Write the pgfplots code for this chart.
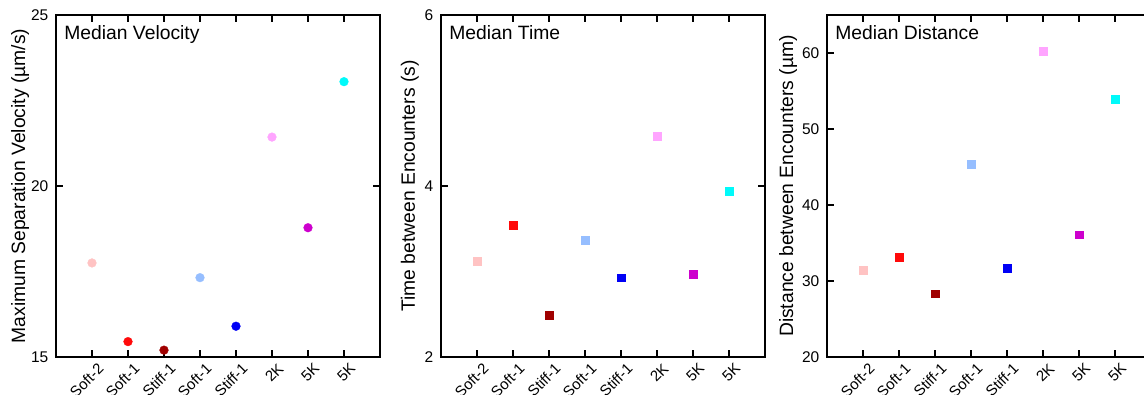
\documentclass[border=0pt]{standalone}
\usepackage{pgfplots}
\usepackage{pgfplotstable}
\pgfplotsset{compat=1.18}
\usepackage{fontspec}
\setmainfont{Liberation Sans}

% one colour per condition
\definecolor{cA}{RGB}{255,195,195}
\definecolor{cB}{RGB}{255,10,10}
\definecolor{cC}{RGB}{160,0,0}
\definecolor{cD}{RGB}{150,190,255}
\definecolor{cE}{RGB}{0,0,245}
\definecolor{cF}{RGB}{255,165,255}
\definecolor{cG}{RGB}{205,0,205}
\definecolor{cH}{RGB}{0,250,250}

\pgfplotstableread{
x y c
1 17.75 a
2 15.45 b
3 15.20 c
4 17.32 d
5 15.90 e
6 21.43 f
7 18.78 g
8 23.05 h
}\velocity

\pgfplotstableread{
x y c
1 3.12 a
2 3.54 b
3 2.49 c
4 3.37 d
5 2.93 e
6 4.58 f
7 2.97 g
8 3.94 h
}\timetab

\pgfplotstableread{
x y c
1 31.45 a
2 33.16 b
3 28.33 c
4 45.40 d
5 31.67 e
6 60.26 f
7 36.10 g
8 53.95 h
}\distance

\pgfplotsset{
  panel/.style={
    scale only axis, width=324pt, height=342pt,
    anchor=south west,
    xmin=0, xmax=9, xtick={1,...,8},
    xticklabels={Soft-2,Soft-1,Stiff-1,Soft-1,Stiff-1,2K,5K,5K},
    tick align=inside, major tick length=7pt,
    line width=2.7pt,
    every tick/.style={black, line width=2.7pt},
    minor tick num=0,
    /pgf/number format/assume math mode=true,
    tick label style={font=\fontsize{15.5}{17}\selectfont},
    yticklabel style={xshift=-3pt},
    xticklabel style={font=\fontsize{15}{17}\selectfont,
      xshift=12pt, yshift=-6pt, rotate=45, anchor=east},
    label style={font=\fontsize{19.3}{22}\selectfont},
    clip=false,
  },
  classes/.style={
    scatter, only marks, scatter src=explicit symbolic,
    mark options={line width=0.3pt},
    scatter/classes={
      a={draw=cA,fill=cA}, b={draw=cB,fill=cB}, c={draw=cC,fill=cC},
      d={draw=cD,fill=cD}, e={draw=cE,fill=cE}, f={draw=cF,fill=cF},
      g={draw=cG,fill=cG}, h={draw=cH,fill=cH}},
  },
}

\newcommand{\paneltitle}[1]{%
  \node[anchor=north west, inner sep=0pt, font=\fontsize{19.3}{22}\selectfont]
    at ([xshift=7pt,yshift=-9pt]rel axis cs:0,1) {#1};}

\begin{document}
\begin{tikzpicture}
\path[use as bounding box] (0,0) rectangle (1144pt,395pt);
\clip (0,0) rectangle (1144pt,395pt);

\begin{axis}[panel, at={(56pt,38pt)},
  ymin=15, ymax=25, ytick={15,20,25},
  ylabel={Maximum Separation Velocity (µm/s)},
  ylabel style={at={(axis description cs:-0.111,0.5)}, anchor=center}]
  \addplot[classes, mark=*, mark size=4.4pt] table[x=x, y=y, meta=c] {\velocity};
  \paneltitle{Median Velocity}
\end{axis}

\begin{axis}[panel, at={(441pt,38pt)},
  ymin=2, ymax=6, ytick={2,4,6},
  ylabel={Time between Encounters (s)},
  ylabel style={at={(axis description cs:-0.096,0.5)}, anchor=center}]
  \addplot[classes, mark=square*, mark size=3.8pt] table[x=x, y=y, meta=c] {\timetab};
  \paneltitle{Median Time}
\end{axis}

\begin{axis}[panel, at={(827pt,38pt)},
  ymin=20, ymax=65, ytick={20,30,40,50,60},
  ylabel={Distance between Encounters (µm)},
  ylabel style={at={(axis description cs:-0.120,0.5)}, anchor=center}]
  \addplot[classes, mark=square*, mark size=3.8pt] table[x=x, y=y, meta=c] {\distance};
  \paneltitle{Median Distance}
\end{axis}
\end{tikzpicture}
\end{document}
